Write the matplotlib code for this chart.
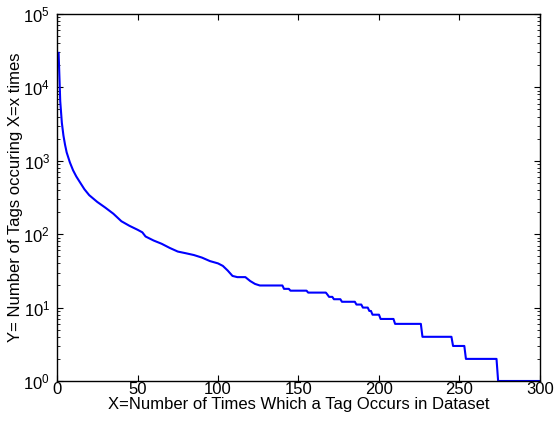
import numpy as np
import matplotlib
matplotlib.use("Agg")
import matplotlib.pyplot as plt
from matplotlib.ticker import LogLocator, NullFormatter

plt.rcParams['font.family'] = ['Liberation Sans', 'DejaVu Sans']
plt.rcParams['mathtext.fontset'] = 'custom'
plt.rcParams['mathtext.rm'] = 'Liberation Sans'
plt.rcParams['mathtext.it'] = 'Liberation Sans:italic'

# occurrence count x vs number of tags occurring x times
occ = [1, 2, 3, 4, 5, 6, 8, 10, 12, 14, 17, 20, 25, 30, 35, 40, 45, 50, 53,
       55, 60, 65, 70, 75, 80, 85, 90, 95, 100, 103, 106, 109, 112, 117, 120,
       123, 126, 140, 141, 144, 145, 155, 156, 167, 168, 169, 171, 172, 176,
       177, 185, 186, 189, 190, 193, 194, 195, 196, 200, 201, 209, 210, 226,
       227, 245, 246, 253, 254, 273, 274, 300]
n_tags = [29500, 6500, 3300, 2200, 1650, 1300, 950, 740, 610, 520, 410, 340,
          275, 230, 190, 150, 130, 115, 106, 93, 82, 74, 65, 58, 55, 52, 48,
          43, 40, 37, 32, 27, 26, 26, 23, 21, 20, 20, 18, 18, 17, 17, 16, 16,
          15, 14, 14, 13, 13, 12, 12, 11, 11, 10, 10, 9, 9, 8, 8, 7, 7, 6, 6,
          4, 4, 3, 3, 2, 2, 1, 1]

fig = plt.figure(figsize=(5.54, 4.23), dpi=100)
ax = fig.add_axes([0.1029, 0.0993, 0.8718, 0.8677])
ax.plot(occ, n_tags, color=(0, 0, 1), linewidth=1.5)
ax.set_yscale('log')
ax.set_xlim(0, 300)
ax.set_ylim(1, 1e5)
ax.set_xticks([0, 50, 100, 150, 200, 250, 300])
ax.yaxis.set_major_locator(LogLocator(base=10, numticks=10))
ax.yaxis.set_minor_locator(LogLocator(base=10, subs=np.arange(2, 10), numticks=10))
ax.yaxis.set_minor_formatter(NullFormatter())
ax.tick_params(which='both', direction='in', top=True, right=True, labelsize=12)
ax.tick_params(axis='y', pad=5)
ax.tick_params(axis='x', pad=1)
ax.tick_params(which='major', length=4)
ax.tick_params(which='minor', length=2)
for s in ax.spines.values():
    s.set_linewidth(1.0)
ax.set_xlabel('X=Number of Times Which a Tag Occurs in Dataset', fontsize=12, labelpad=0)
ax.set_ylabel('Y= Number of Tags occuring X=x times', fontsize=12, labelpad=0)

fig.savefig('out.png', dpi=100)
